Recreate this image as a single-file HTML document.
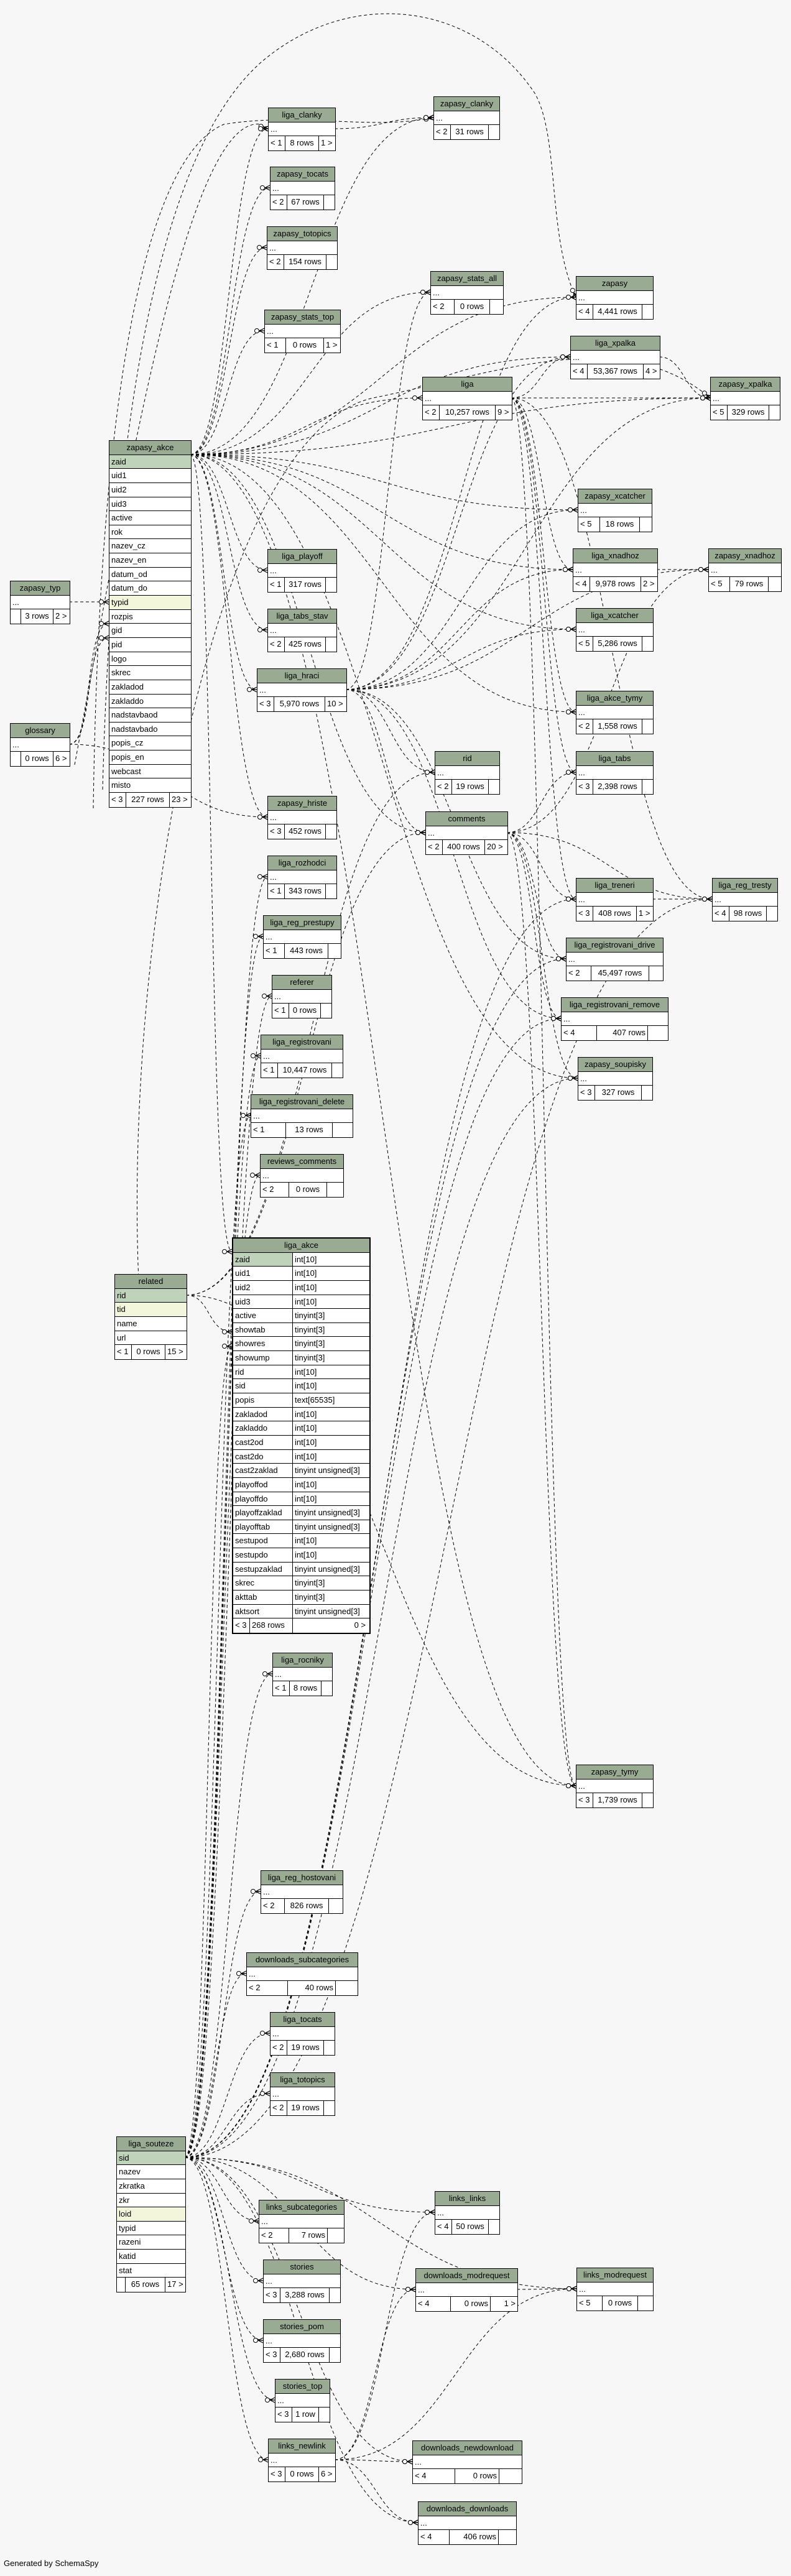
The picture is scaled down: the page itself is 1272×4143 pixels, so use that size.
<!DOCTYPE html>
<html><head><meta charset="utf-8">
<style>
html,body{margin:0;padding:0;background:#f7f7f7;}
body{width:1272px;height:4143px;position:relative;overflow:hidden;font-family:"Liberation Sans",Arial,sans-serif;}
svg#e{position:absolute;left:0;top:0;}
.t{position:absolute;border:1px solid #000;background:#fff;font-size:13px;color:#000;}
.t>div{height:22.65px;line-height:22px;border-bottom:1px solid #000;box-sizing:border-box;padding-left:3px;white-space:nowrap;overflow:hidden;}
.t>div:last-child{border-bottom:none;}
.t .h{background:#9aab94;text-align:center;padding-left:0;}
.t .pk{background:#bfd3bb;}
.t .fk{background:#f4f6dc;}
.t .f{display:flex;padding-left:0;}
.t .f span{border-right:1px solid #000;padding:0 3px;box-sizing:border-box;}
.t .f span:last-child{border-right:none;}
.a{width:27px;flex:none;}
.m{flex:1;text-align:center;}
.z{width:26px;flex:none;}
.y{width:17px;flex:none;}
.t .c{display:flex;padding-left:0;}
.t .c span{padding-left:3px;box-sizing:border-box;}
.t .c span:first-child{width:96px;flex:none;border-right:1px solid #000;}
.big{border:2px solid #000;}
.gen{position:absolute;left:6px;top:4115px;font-size:13px;}
</style></head><body>
<svg id="e" width="1272" height="4143" xmlns="http://www.w3.org/2000/svg">
<defs><marker id="m" markerUnits="userSpaceOnUse" markerWidth="18" markerHeight="12" refX="17" refY="6" orient="auto">
<circle cx="5" cy="6" r="3.5" fill="#fff" stroke="#000" stroke-width="1"/>
<path d="M9,6 L17,2 M9,6 L17,6 M9,6 L17,10" stroke="#000" stroke-width="1.2" fill="none"/>
</marker></defs>
<g fill="none" stroke="#000" stroke-width="1" stroke-dasharray="5,4">
<path d="M165,1270 C180,700 250,250 420,100 C560,-20 760,0 860,150 C900,220 880,380 926,478" marker-end="url(#m)"/>
<path d="M150,1300 C160,600 240,250 360,200 C480,180 600,210 697,189" marker-end="url(#m)"/>
<path d="M120,1230 C200,800 300,180 420,200 C425,205 428,206 431,207" marker-end="url(#m)"/>
<path d="M230,2170 C180,1600 330,700 600,640 C800,600 1000,520 1142,640" marker-end="url(#m)"/>
</g>
<g id="g" fill="none" stroke="#000" stroke-width="1" stroke-dasharray="5,4"></g>
</svg>

<!-- left -->
<div class="t" style="left:16px;top:934px;width:95px"><div class="h">zapasy_typ</div><div>...</div><div class="f"><span class="y"></span><span class="m">3 rows</span><span class="z">2 &gt;</span></div></div>
<div class="t" style="left:16px;top:1163px;width:95px"><div class="h">glossary</div><div>...</div><div class="f"><span class="y"></span><span class="m">0 rows</span><span class="z">6 &gt;</span></div></div>

<div class="t" style="left:175px;top:708px;width:131px"><div class="h">zapasy_akce</div><div class="pk">zaid</div><div>uid1</div><div>uid2</div><div>uid3</div><div>active</div><div>rok</div><div>nazev_cz</div><div>nazev_en</div><div>datum_od</div><div>datum_do</div><div class="fk">typid</div><div>rozpis</div><div>gid</div><div>pid</div><div>logo</div><div>skrec</div><div>zakladod</div><div>zakladdo</div><div>nadstavbaod</div><div>nadstavbado</div><div>popis_cz</div><div>popis_en</div><div>webcast</div><div>misto</div><div class="f"><span class="a">&lt; 3</span><span class="m">227 rows</span><span class="z" style="width:34px">23 &gt;</span></div></div>

<div class="t" style="left:184px;top:2049px;width:115px"><div class="h">related</div><div class="pk">rid</div><div class="fk">tid</div><div>name</div><div>url</div><div class="f"><span class="a">&lt; 1</span><span class="m">0 rows</span><span class="z" style="width:34px">15 &gt;</span></div></div>

<div class="t" style="left:187px;top:3436px;width:110px"><div class="h">liga_souteze</div><div class="pk">sid</div><div>nazev</div><div>zkratka</div><div>zkr</div><div class="fk">loid</div><div>typid</div><div>razeni</div><div>katid</div><div>stat</div><div class="f"><span class="y" style="width:14px"></span><span class="m">65 rows</span><span class="z" style="width:32px">17 &gt;</span></div></div>

<div class="t big" style="left:373px;top:1990px;width:219px"><div class="h">liga_akce</div>
<div class="c"><span class="pk" style="background:#bfd3bb">zaid</span><span>int[10]</span></div>
<div class="c"><span>uid1</span><span>int[10]</span></div>
<div class="c"><span>uid2</span><span>int[10]</span></div>
<div class="c"><span>uid3</span><span>int[10]</span></div>
<div class="c"><span>active</span><span>tinyint[3]</span></div>
<div class="c"><span>showtab</span><span>tinyint[3]</span></div>
<div class="c"><span>showres</span><span>tinyint[3]</span></div>
<div class="c"><span>showump</span><span>tinyint[3]</span></div>
<div class="c"><span>rid</span><span>int[10]</span></div>
<div class="c"><span>sid</span><span>int[10]</span></div>
<div class="c"><span>popis</span><span>text[65535]</span></div>
<div class="c"><span>zakladod</span><span>int[10]</span></div>
<div class="c"><span>zakladdo</span><span>int[10]</span></div>
<div class="c"><span>cast2od</span><span>int[10]</span></div>
<div class="c"><span>cast2do</span><span>int[10]</span></div>
<div class="c"><span>cast2zaklad</span><span>tinyint unsigned[3]</span></div>
<div class="c"><span>playoffod</span><span>int[10]</span></div>
<div class="c"><span>playoffdo</span><span>int[10]</span></div>
<div class="c"><span>playoffzaklad</span><span>tinyint unsigned[3]</span></div>
<div class="c"><span>playofftab</span><span>tinyint unsigned[3]</span></div>
<div class="c"><span>sestupod</span><span>int[10]</span></div>
<div class="c"><span>sestupdo</span><span>int[10]</span></div>
<div class="c"><span>sestupzaklad</span><span>tinyint unsigned[3]</span></div>
<div class="c"><span>skrec</span><span>tinyint[3]</span></div>
<div class="c"><span>akttab</span><span>tinyint[3]</span></div>
<div class="c"><span>aktsort</span><span>tinyint unsigned[3]</span></div>
<div class="f"><span class="a">&lt; 3</span><span style="width:69px;flex:none">268 rows</span><span style="flex:1;text-align:right;padding-right:6px">0 &gt;</span></div></div>

<!-- column C -->
<div class="t" style="left:431px;top:173px;width:107px"><div class="h">liga_clanky</div><div>...</div><div class="f"><span class="a">&lt; 1</span><span class="m">8 rows</span><span class="z">1 &gt;</span></div></div>
<div class="t" style="left:434px;top:268px;width:103px"><div class="h">zapasy_tocats</div><div>...</div><div class="f"><span class="a">&lt; 2</span><span class="m">67 rows</span><span class="y"></span></div></div>
<div class="t" style="left:429px;top:364px;width:112px"><div class="h">zapasy_totopics</div><div>...</div><div class="f"><span class="a">&lt; 2</span><span class="m">154 rows</span><span class="y"></span></div></div>
<div class="t" style="left:425px;top:498px;width:121px"><div class="h">zapasy_stats_top</div><div>...</div><div class="f"><span class="a" style="width:34px">&lt; 1</span><span class="m">0 rows</span><span class="z">1 &gt;</span></div></div>
<div class="t" style="left:430px;top:883px;width:110px"><div class="h">liga_playoff</div><div>...</div><div class="f"><span class="a">&lt; 1</span><span class="m">317 rows</span><span class="y"></span></div></div>
<div class="t" style="left:430px;top:979px;width:110px"><div class="h">liga_tabs_stav</div><div>...</div><div class="f"><span class="a">&lt; 2</span><span class="m">425 rows</span><span class="y"></span></div></div>
<div class="t" style="left:413px;top:1075px;width:143px"><div class="h">liga_hraci</div><div>...</div><div class="f"><span class="a">&lt; 3</span><span class="m">5,970 rows</span><span class="z" style="width:34px">10 &gt;</span></div></div>
<div class="t" style="left:430px;top:1280px;width:110px"><div class="h">zapasy_hriste</div><div>...</div><div class="f"><span class="a">&lt; 3</span><span class="m">452 rows</span><span class="y"></span></div></div>
<div class="t" style="left:430px;top:1376px;width:110px"><div class="h">liga_rozhodci</div><div>...</div><div class="f"><span class="a">&lt; 1</span><span class="m">343 rows</span><span class="y"></span></div></div>
<div class="t" style="left:423px;top:1472px;width:124px"><div class="h">liga_reg_prestupy</div><div>...</div><div class="f"><span class="a" style="width:34px">&lt; 1</span><span class="m">443 rows</span><span class="y" style="width:20px"></span></div></div>
<div class="t" style="left:437px;top:1568px;width:95px"><div class="h">referer</div><div>...</div><div class="f"><span class="a">&lt; 1</span><span class="m">0 rows</span><span class="y"></span></div></div>
<div class="t" style="left:419px;top:1664px;width:131px"><div class="h">liga_registrovani</div><div>...</div><div class="f"><span class="a">&lt; 1</span><span class="m">10,447 rows</span><span class="y"></span></div></div>
<div class="t" style="left:403px;top:1760px;width:163px"><div class="h">liga_registrovani_delete</div><div>...</div><div class="f"><span class="a" style="width:56px">&lt; 1</span><span class="m">13 rows</span><span class="y" style="width:32px"></span></div></div>
<div class="t" style="left:418px;top:1856px;width:133px"><div class="h">reviews_comments</div><div>...</div><div class="f"><span class="a" style="width:46px">&lt; 2</span><span class="m">0 rows</span><span class="y" style="width:26px"></span></div></div>
<div class="t" style="left:438px;top:2658px;width:95px"><div class="h">liga_rocniky</div><div>...</div><div class="f"><span class="a">&lt; 1</span><span class="m">8 rows</span><span class="y"></span></div></div>
<div class="t" style="left:419px;top:3008px;width:131px"><div class="h">liga_reg_hostovani</div><div>...</div><div class="f"><span class="a" style="width:38px">&lt; 2</span><span class="m">826 rows</span><span class="y" style="width:22px"></span></div></div>
<div class="t" style="left:396px;top:3140px;width:178px"><div class="h">downloads_subcategories</div><div>...</div><div class="f"><span class="a" style="width:66px">&lt; 2</span><span class="m" style="text-align:right">40 rows</span><span class="y" style="width:35px"></span></div></div>
<div class="t" style="left:434px;top:3236px;width:103px"><div class="h">liga_tocats</div><div>...</div><div class="f"><span class="a">&lt; 2</span><span class="m">19 rows</span><span class="y"></span></div></div>
<div class="t" style="left:434px;top:3333px;width:103px"><div class="h">liga_totopics</div><div>...</div><div class="f"><span class="a">&lt; 2</span><span class="m">19 rows</span><span class="y"></span></div></div>
<div class="t" style="left:416px;top:3538px;width:136px"><div class="h">links_subcategories</div><div>...</div><div class="f"><span class="a" style="width:48px">&lt; 2</span><span class="m" style="text-align:right">7 rows</span><span class="y" style="width:26px"></span></div></div>
<div class="t" style="left:423px;top:3634px;width:123px"><div class="h">stories</div><div>...</div><div class="f"><span class="a">&lt; 3</span><span class="m">3,288 rows</span><span class="y"></span></div></div>
<div class="t" style="left:423px;top:3730px;width:123px"><div class="h">stories_pom</div><div>...</div><div class="f"><span class="a">&lt; 3</span><span class="m">2,680 rows</span><span class="y"></span></div></div>
<div class="t" style="left:442px;top:3826px;width:87px"><div class="h">stories_top</div><div>...</div><div class="f"><span class="a">&lt; 3</span><span class="m">1 row</span><span class="y"></span></div></div>
<div class="t" style="left:431px;top:3922px;width:107px"><div class="h">links_newlink</div><div>...</div><div class="f"><span class="a">&lt; 3</span><span class="m">0 rows</span><span class="z">6 &gt;</span></div></div>

<!-- column D -->
<div class="t" style="left:697px;top:155px;width:105px"><div class="h">zapasy_clanky</div><div>...</div><div class="f"><span class="a">&lt; 2</span><span class="m">31 rows</span><span class="y"></span></div></div>
<div class="t" style="left:692px;top:436px;width:116px"><div class="h">zapasy_stats_all</div><div>...</div><div class="f"><span class="a" style="width:38px">&lt; 2</span><span class="m">0 rows</span><span class="y" style="width:21px"></span></div></div>
<div class="t" style="left:679px;top:606px;width:143px"><div class="h">liga</div><div>...</div><div class="f"><span class="a">&lt; 2</span><span class="m">10,257 rows</span><span class="z">9 &gt;</span></div></div>
<div class="t" style="left:699px;top:1208px;width:103px"><div class="h">rid</div><div>...</div><div class="f"><span class="a">&lt; 2</span><span class="m">19 rows</span><span class="y"></span></div></div>
<div class="t" style="left:684px;top:1305px;width:131px"><div class="h">comments</div><div>...</div><div class="f"><span class="a">&lt; 2</span><span class="m">400 rows</span><span class="z" style="width:36px">20 &gt;</span></div></div>
<div class="t" style="left:699px;top:3524px;width:103px"><div class="h">links_links</div><div>...</div><div class="f"><span class="a">&lt; 4</span><span class="m">50 rows</span><span class="y"></span></div></div>
<div class="t" style="left:668px;top:3648px;width:163px"><div class="h">downloads_modrequest</div><div>...</div><div class="f"><span class="a" style="width:56px">&lt; 4</span><span class="m" style="text-align:right">0 rows</span><span class="z" style="width:43px;text-align:right">1 &gt;</span></div></div>
<div class="t" style="left:663px;top:3925px;width:175px"><div class="h">downloads_newdownload</div><div>...</div><div class="f"><span class="a" style="width:68px">&lt; 4</span><span class="m" style="text-align:right">0 rows</span><span class="y" style="width:36px"></span></div></div>
<div class="t" style="left:672px;top:4023px;width:157px"><div class="h">downloads_downloads</div><div>...</div><div class="f"><span class="a" style="width:50px">&lt; 4</span><span class="m" style="text-align:right">406 rows</span><span class="y" style="width:28px"></span></div></div>

<!-- column E -->
<div class="t" style="left:926px;top:444px;width:123px"><div class="h">zapasy</div><div>...</div><div class="f"><span class="a">&lt; 4</span><span class="m">4,441 rows</span><span class="y"></span></div></div>
<div class="t" style="left:917px;top:540px;width:143px"><div class="h">liga_xpalka</div><div>...</div><div class="f"><span class="a">&lt; 4</span><span class="m">53,367 rows</span><span class="z">4 &gt;</span></div></div>
<div class="t" style="left:929px;top:786px;width:118px"><div class="h">zapasy_xcatcher</div><div>...</div><div class="f"><span class="a" style="width:35px">&lt; 5</span><span class="m">18 rows</span><span class="y" style="width:19px"></span></div></div>
<div class="t" style="left:921px;top:882px;width:135px"><div class="h">liga_xnadhoz</div><div>...</div><div class="f"><span class="a">&lt; 4</span><span class="m">9,978 rows</span><span class="z">2 &gt;</span></div></div>
<div class="t" style="left:926px;top:978px;width:123px"><div class="h">liga_xcatcher</div><div>...</div><div class="f"><span class="a">&lt; 5</span><span class="m">5,286 rows</span><span class="y"></span></div></div>
<div class="t" style="left:926px;top:1111px;width:123px"><div class="h">liga_akce_tymy</div><div>...</div><div class="f"><span class="a">&lt; 2</span><span class="m">1,558 rows</span><span class="y"></span></div></div>
<div class="t" style="left:926px;top:1208px;width:123px"><div class="h">liga_tabs</div><div>...</div><div class="f"><span class="a">&lt; 3</span><span class="m">2,398 rows</span><span class="y"></span></div></div>
<div class="t" style="left:926px;top:1412px;width:123px"><div class="h">liga_treneri</div><div>...</div><div class="f"><span class="a">&lt; 3</span><span class="m">408 rows</span><span class="z">1 &gt;</span></div></div>
<div class="t" style="left:910px;top:1508px;width:155px"><div class="h">liga_registrovani_drive</div><div>...</div><div class="f"><span class="a" style="width:40px">&lt; 2</span><span class="m">45,497 rows</span><span class="y" style="width:22px"></span></div></div>
<div class="t" style="left:902px;top:1604px;width:171px"><div class="h">liga_registrovani_remove</div><div>...</div><div class="f"><span class="a" style="width:57px">&lt; 4</span><span class="m" style="text-align:right">407 rows</span><span class="y" style="width:32px"></span></div></div>
<div class="t" style="left:929px;top:1700px;width:119px"><div class="h">zapasy_soupisky</div><div>...</div><div class="f"><span class="a">&lt; 3</span><span class="m">327 rows</span><span class="y"></span></div></div>
<div class="t" style="left:926px;top:2838px;width:123px"><div class="h">zapasy_tymy</div><div>...</div><div class="f"><span class="a">&lt; 3</span><span class="m">1,739 rows</span><span class="y"></span></div></div>
<div class="t" style="left:927px;top:3647px;width:122px"><div class="h">links_modrequest</div><div>...</div><div class="f"><span class="a" style="width:41px">&lt; 5</span><span class="m">0 rows</span><span class="y" style="width:24px"></span></div></div>

<!-- column F -->
<div class="t" style="left:1142px;top:606px;width:111px"><div class="h">zapasy_xpalka</div><div>...</div><div class="f"><span class="a">&lt; 5</span><span class="m">329 rows</span><span class="y"></span></div></div>
<div class="t" style="left:1139px;top:882px;width:116px"><div class="h">zapasy_xnadhoz</div><div>...</div><div class="f"><span class="a" style="width:34px">&lt; 5</span><span class="m">79 rows</span><span class="y" style="width:20px"></span></div></div>
<div class="t" style="left:1145px;top:1412px;width:104px"><div class="h">liga_reg_tresty</div><div>...</div><div class="f"><span class="a">&lt; 4</span><span class="m">98 rows</span><span class="y"></span></div></div>

<div class="gen">Generated by SchemaSpy</div>

<script>
(function(){
var g=document.getElementById('g');
function T(x,y){return [x,y+34];}
var S1=[306,731],S2=[556,1109],S3=[822,640],S4=[815,1339],S5=[299,2083],S6=[297,3470],S7=[538,3956],SG=[111,1197],SZ=[111,968];
var E=[
[S1,T(431,173)],[S1,T(434,268)],[S1,T(429,364)],[S1,T(425,498)],[S1,T(692,436)],[S1,T(926,444)],[S1,T(917,540)],[S1,T(679,606)],[S1,T(1142,606)],[S1,T(929,786)],[S1,T(921,882)],[S1,T(430,883)],[S1,T(430,979)],[S1,T(926,978)],[S1,T(413,1075)],[S1,T(430,1280)],[S1,T(926,1111)],[S1,T(684,1305)],[S1,T(929,1700)],[S1,T(926,2838)],[S1,[373,2013]],[S1,T(697,155)],
[S2,T(929,786)],[S2,T(921,882)],[S2,T(926,978)],[S2,T(1142,606)],[S2,T(1139,882)],[S2,T(917,540)],[S2,T(926,444)],[S2,T(692,436)],[S2,T(684,1305)],[S2,T(910,1508)],[S2,T(902,1604)],[S2,T(699,1208)],
[S3,T(1142,606)],[S3,T(917,540)],[S3,T(926,1208)],[S3,T(926,1412)],[S3,T(1145,1412)],[S3,T(926,1111)],[S3,T(926,2838)],[S3,T(921,882)],
[S4,T(926,1412)],[S4,T(1145,1412)],[S4,T(910,1508)],[S4,T(902,1604)],[S4,T(929,1700)],[S4,T(926,1208)],[S4,T(1139,882)],[S4,T(926,2838)],
[[1049,1446],T(1145,1412)],[[1056,916],T(1139,882)],[[1060,574],T(1142,606)],[[538,207],T(697,155)],[[831,3682],T(927,3647)],
[S5,[373,2142]],[S5,T(699,1208)],[S5,T(684,1305)],[S5,T(926,2838)],
[SG,[175,1003]],[SG,[175,1026]],[SG,T(430,1280)],[SZ,[175,968]],
[S6,[373,2165]],[S6,T(430,1376)],[S6,T(423,1472)],[S6,T(437,1568)],[S6,T(419,1664)],[S6,T(403,1760)],[S6,T(418,1856)],[S6,T(438,2658)],[S6,T(419,3008)],[S6,T(396,3140)],[S6,T(434,3236)],[S6,T(434,3333)],[S6,T(416,3538)],[S6,T(423,3634)],[S6,T(423,3730)],[S6,T(442,3826)],[S6,T(431,3922)],[S6,T(699,3524)],[S6,T(668,3648)],[S6,T(663,3925)],[S6,T(672,4023)],[S6,T(927,3647)],[S6,T(910,1508)],[S6,T(902,1604)],[S6,T(929,1700)],[S6,T(926,1412)],[S6,T(1145,1412)],
[S7,T(699,3524)],[S7,T(668,3648)],[S7,T(663,3925)],[S7,T(672,4023)],[S7,T(927,3647)]
];
var s='';
E.forEach(function(e){var a=e[0],b=e[1];var dx=Math.max(40,(b[0]-a[0])*0.5);
s+='<path marker-end="url(#m)" d="M'+a[0]+','+a[1]+' C'+(a[0]+dx)+','+a[1]+' '+(b[0]-dx)+','+b[1]+' '+b[0]+','+b[1]+'"/>';});
g.innerHTML=s;
})();
</script>
</body></html>
